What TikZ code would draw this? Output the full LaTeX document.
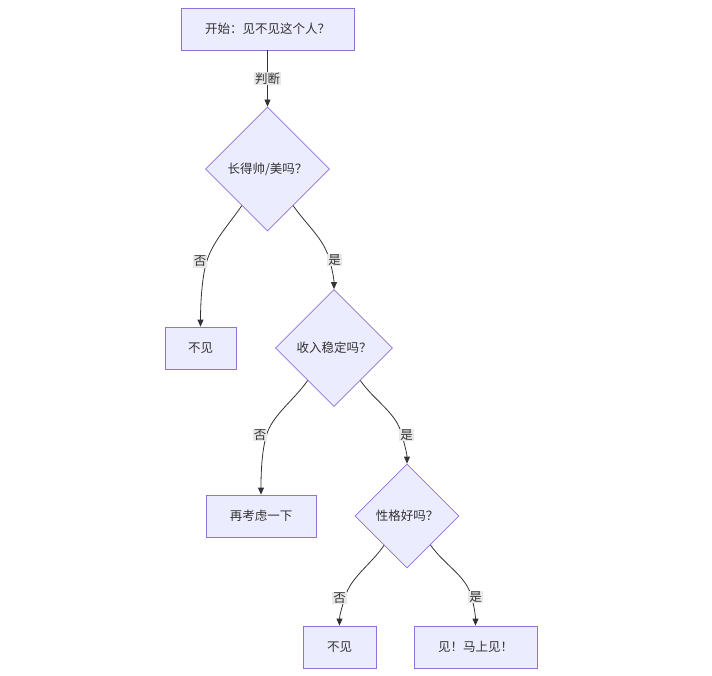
\documentclass[tikz,border=0pt]{standalone}
\usepackage{fontspec}
\setmainfont{Noto Sans CJK SC}
\usetikzlibrary{arrows.meta,shapes.geometric}
\definecolor{nodefill}{HTML}{ECECFF}
\definecolor{nodeline}{HTML}{9370DB}
\definecolor{inkgray}{HTML}{333333}
\definecolor{taggray}{HTML}{E8E8E8}
\tikzset{
  procbox/.style={
    draw=nodeline,
    line width=0.8pt,
    fill=nodefill,
    minimum height=42pt,
    inner sep=0pt,
    text=inkgray,
    font=\fontsize{12.5}{15}\selectfont
  },
  choice/.style={
    diamond,
    aspect=1,
    draw=nodeline,
    line width=0.8pt,
    fill=nodefill,
    inner sep=0pt,
    text=inkgray,
    font=\fontsize{12.5}{15}\selectfont
  },
  edgetag/.style={
    fill=taggray,
    inner sep=0.8pt,
    text=inkgray,
    font=\fontsize{12.5}{15}\selectfont
  },
  flowarrow/.style={-{Triangle[length=7pt,width=6pt]},line width=0.8pt,draw=inkgray}
}
\begin{document}
\begin{tikzpicture}[x=1pt,y=-1pt]
\useasboundingbox (0,0) rectangle (712,675);
\node[procbox,minimum width=173pt] (start) at (267.5,29) {开始：见不见这个人？};
\node[choice,minimum size=124pt] (looks) at (267.5,169) {长得帅/美吗？};
\node[procbox,minimum width=71pt] (nolooks) at (200.5,348) {不见};
\node[choice,minimum size=117pt] (income) at (334,348) {收入稳定吗？};
\node[procbox,minimum width=110pt] (rethink) at (261,516) {再考虑一下};
\node[choice,minimum size=104pt] (temper) at (407,516) {性格好吗？};
\node[procbox,minimum width=73pt] (nomeet) at (339.5,647) {不见};
\node[procbox,minimum width=123pt] (meet) at (475.5,647) {见！马上见！};
% bends of the curved edges
\coordinate (bendA) at (206.5,262);
\coordinate (bendB) at (329,258);
\coordinate (bendC) at (266.5,435);
\coordinate (bendD) at (401,432);
\coordinate (bendE) at (345,597);
\coordinate (bendF) at (471,595);
\draw[flowarrow] (start) -- (looks) node[edgetag,midway] (judge) {判断};
\draw[flowarrow] (looks.235) .. controls +(-14,20) and +(6,-20) .. (bendA)
  .. controls +(-5,17) and +(0,-20) .. (nolooks.north);
\draw[flowarrow] (looks.305) .. controls +(14,20) and +(-6,-20) .. (bendB)
  .. controls +(3,10) and +(0,-10) .. (income.north);
\draw[flowarrow] (income.231) .. controls +(-14,20) and +(6,-20) .. (bendC)
  .. controls +(-5,17) and +(0,-20) .. (rethink.north);
\draw[flowarrow] (income.309) .. controls +(14,20) and +(-6,-20) .. (bendD)
  .. controls +(3,10) and +(0,-10) .. (temper.north);
\draw[flowarrow] (temper.232) .. controls +(-14,20) and +(6,-20) .. (bendE)
  .. controls +(-3,10) and +(0,-10) .. (nomeet.north);
\draw[flowarrow] (temper.309) .. controls +(14,20) and +(-6,-20) .. (bendF)
  .. controls +(3,10) and +(0,-10) .. (meet.north);
\node[edgetag] (noA) at (200,261.5) {否};
\node[edgetag] (yesB) at (334.5,260) {是};
\node[edgetag] (noC) at (260,435) {否};
\node[edgetag] (yesD) at (406.5,435) {是};
\node[edgetag] (noE) at (339.5,598) {否};
\node[edgetag] (yesF) at (475.5,597) {是};
\end{tikzpicture}
\end{document}
